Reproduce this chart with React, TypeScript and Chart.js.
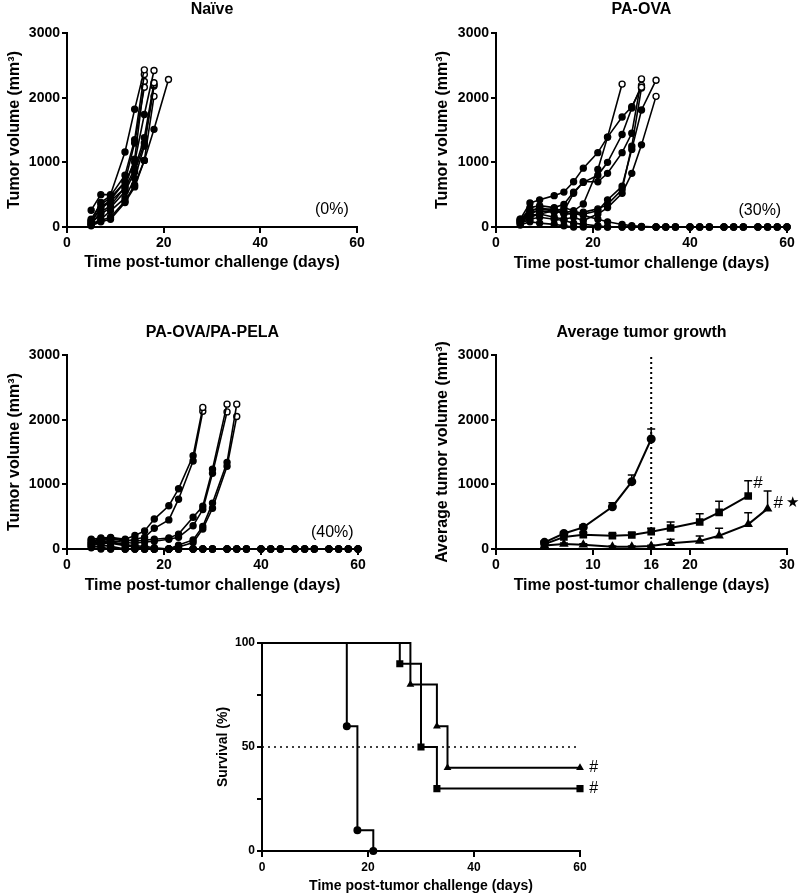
import React, { useEffect, useRef } from 'react';
import { Chart, registerables } from 'chart.js';

Chart.register(...registerables);

const FAMILY = "'Liberation Sans', Arial, Helvetica, sans-serif";

// Measurement days for individual tumor curves
const DAYS = [5, 7, 9, 12, 14, 16, 18, 21, 23, 26, 28, 30, 33, 35, 37, 40, 42, 44, 47, 49, 51, 54, 56, 58, 60];

// Naïve mice (tumor volume, mm3)
const NAIVE_1 = [260, 500, 500, 1160, 1820, 2430];
const NAIVE_2 = [100, 380, 480, 800, 1350, 2360];
const NAIVE_3 = [80, 300, 420, 700, 1300, 2160];
const NAIVE_4 = [50, 230, 330, 620, 1050, 2250];
const NAIVE_5 = [120, 350, 450, 700, 1000, 1740, 2420];
const NAIVE_6 = [90, 280, 400, 600, 900, 1380, 2230];
const NAIVE_7 = [60, 200, 300, 550, 850, 1300, 2200];
const NAIVE_8 = [40, 120, 250, 450, 750, 1250, 2180];
const NAIVE_9 = [30, 100, 150, 400, 650, 1030, 2020];
const NAIVE_10 = [20, 80, 120, 380, 620, 1030, 1510, 2280];

// PA-OVA mice
const OVA_1 = [100, 250, 300, 250, 220, 250, 355, 890, 1390, 2210];
const OVA_2 = [120, 370, 420, 485, 540, 700, 910, 1150, 1390, 1700, 1860, 2160];
const OVA_3 = [90, 300, 330, 300, 350, 540, 690, 800, 1000, 1430, 1840, 2190];
const OVA_4 = [80, 200, 270, 280, 250, 520, 700, 700, 830, 1150, 1450, 2290];
const OVA_5 = [60, 150, 200, 250, 200, 200, 230, 280, 350, 580, 1250, 2150];
const OVA_6 = [100, 220, 250, 230, 300, 250, 200, 250, 420, 630, 1200, 1810, 2270];
const OVA_7 = [70, 180, 200, 150, 120, 150, 100, 200, 300, 520, 830, 1270, 2020];
const OVA_8 = [120, 250, 280, 250, 220, 210, 180, 120, 80, 40, 20, 10, 0, 0, 0, 0, 0, 0, 0, 0, 0, 0, 0, 0, 0];
const OVA_9 = [50, 120, 150, 120, 100, 60, 40, 20, 0, 0, 0, 0, 0, 0, 0, 0, 0, 0, 0, 0, 0, 0, 0, 0, 0];
const OVA_10 = [30, 80, 60, 40, 20, 0, 0, 0, 0, 0, 0, 0, 0, 0, 0, 0, 0, 0, 0, 0, 0, 0, 0, 0, 0];

// PA-OVA/PA-PELA mice
const PELA_1 = [150, 170, 180, 150, 210, 280, 463, 669, 931, 1441, 2190];
const PELA_2 = [100, 140, 160, 120, 150, 180, 320, 450, 770, 1360, 2130];
const PELA_3 = [120, 160, 170, 140, 120, 140, 150, 170, 230, 490, 660, 1235, 2240];
const PELA_4 = [80, 120, 130, 100, 90, 110, 120, 150, 180, 360, 610, 1170, 2120];
const PELA_5 = [60, 100, 110, 70, 50, 40, 20, 0, 60, 140, 350, 710, 1340, 2240];
const PELA_6 = [50, 80, 90, 50, 30, 20, 0, 0, 30, 100, 310, 630, 1280, 2050];
const PELA_7 = [140, 120, 100, 60, 30, 0, 0, 0, 0, 0, 0, 0, 0, 0, 0, 0, 0, 0, 0, 0, 0, 0, 0, 0, 0];
const PELA_8 = [90, 60, 40, 0, 0, 0, 0, 0, 0, 0, 0, 0, 0, 0, 0, 0, 0, 0, 0, 0, 0, 0, 0, 0, 0];
const PELA_9 = [40, 30, 0, 0, 0, 0, 0, 0, 0, 0, 0, 0, 0, 0, 0, 0, 0, 0, 0, 0, 0, 0, 0, 0, 0];
const PELA_10 = [20, 0, 0, 0, 0, 0, 0, 0, 0, 0, 0, 0, 0, 0, 0, 0, 0, 0, 0, 0, 0, 0, 0, 0, 0];

const NAIVE_MICE = [NAIVE_1, NAIVE_2, NAIVE_3, NAIVE_4, NAIVE_5, NAIVE_6, NAIVE_7, NAIVE_8, NAIVE_9, NAIVE_10];
const OVA_MICE = [OVA_1, OVA_2, OVA_3, OVA_4, OVA_5, OVA_6, OVA_7, OVA_8, OVA_9, OVA_10];
const PELA_MICE = [PELA_1, PELA_2, PELA_3, PELA_4, PELA_5, PELA_6, PELA_7, PELA_8, PELA_9, PELA_10];

// Average tumor growth (mean and SEM)
const AVG_NAIVE_DAYS = [5, 7, 9, 12, 14, 16];
const AVG_NAIVE = [103, 240, 335, 654, 1041, 1701];
const SEM_NAIVE = [15, 25, 35, 62, 103, 155];
const AVG_OVA_DAYS = [5, 7, 9, 12, 14, 16, 18, 21, 23, 26];
const AVG_OVA = [75, 185, 222, 206, 216, 268, 325, 418, 567, 820];
const SEM_OVA = [10, 25, 30, 30, 35, 52, 93, 128, 170, 237];
const AVG_PELA_DAYS = [5, 7, 9, 12, 14, 16, 18, 21, 23, 26, 28];
const AVG_PELA = [55, 77, 67, 36, 36, 46, 88, 124, 206, 381, 624];
const SEM_PELA = [10, 15, 15, 10, 10, 12, 62, 77, 113, 181, 273];
const AVG_X_TICKS = [0, 10, 16, 20, 30];

// Survival (%)
const SURV_NAIVE_DAYS = [0, 16, 18, 21];
const SURV_NAIVE = [100, 60, 10, 0];
const SURV_OVA_DAYS = [0, 26, 30, 33, 60];
const SURV_OVA = [100, 90, 50, 30, 30];
const SURV_PELA_DAYS = [0, 28, 33, 35, 60];
const SURV_PELA = [100, 80, 60, 40, 40];

type Box = { left: number; top: number; w: number; h: number; L: number; T: number; R: number; B: number };

const BOX_NAIVE: Box = { left: 0, top: 0, w: 400, h: 300, L: 67, T: 33, R: 357, B: 227 };
const BOX_OVA: Box = { left: 400, top: 0, w: 400, h: 300, L: 96, T: 33, R: 387, B: 227 };
const BOX_PELA: Box = { left: 0, top: 300, w: 400, h: 300, L: 67, T: 55, R: 358, B: 249 };
const BOX_AVG: Box = { left: 400, top: 300, w: 400, h: 300, L: 96, T: 55, R: 387, B: 249 };
const BOX_SURV: Box = { left: 200, top: 600, w: 450, h: 296, L: 62, T: 43, R: 380, B: 251 };

type Label = { text: string; x: number; y: number; size: number; weight?: string; align?: CanvasTextAlign };

function textPlugin(title: string | null, titleY: number, labels: Label[]) {
  return {
    id: 'texts',
    afterDraw(chart: any) {
      const ctx = chart.ctx;
      const a = chart.chartArea;
      ctx.save();
      ctx.fillStyle = '#000';
      ctx.textBaseline = 'middle';
      if (title) {
        ctx.font = `bold 16px ${FAMILY}`;
        ctx.textAlign = 'center';
        ctx.fillText(title, (a.left + a.right) / 2, titleY);
      }
      labels.forEach((l) => {
        ctx.font = `${l.weight || 'normal'} ${l.size}px ${FAMILY}`;
        ctx.textAlign = l.align || 'center';
        ctx.fillText(l.text, chart.scales.x.getPixelForValue(l.x), chart.scales.y.getPixelForValue(l.y));
      });
      ctx.restore();
    },
  };
}

function errorBarPlugin(list: { dataset: number; sem: number[] }[]) {
  return {
    id: 'errbars',
    beforeDatasetsDraw(chart: any) {
      const ctx = chart.ctx;
      const xs = chart.scales.x;
      const ys = chart.scales.y;
      ctx.save();
      ctx.strokeStyle = '#000';
      ctx.lineWidth = 1.5;
      list.forEach(({ dataset, sem }) => {
        const data = chart.data.datasets[dataset].data as { x: number; y: number }[];
        data.forEach((pt, i) => {
          const x = xs.getPixelForValue(pt.x);
          const y0 = ys.getPixelForValue(pt.y);
          const y1 = ys.getPixelForValue(pt.y + sem[i]);
          ctx.beginPath();
          ctx.moveTo(x, y0);
          ctx.lineTo(x, y1);
          ctx.moveTo(x - 4, y1);
          ctx.lineTo(x + 4, y1);
          ctx.stroke();
        });
      });
      ctx.restore();
    },
  };
}

type AxisOpts = {
  xMin: number; xMax: number; xStep?: number; xTicks?: number[];
  yMin: number; yMax: number; yStep: number; yLabelFilter?: (v: number) => boolean;
  xTitle: string; yTitle: string;
  tickSize: number; titleSize: number;
  xTitleCenter: number; yTitleCenter: number;
  xTickPad: number;
};

function buildOptions(b: Box, o: AxisOpts, extra: any = {}) {
  const lineH = o.titleSize * 1.2;
  return {
    responsive: false,
    animation: false,
    events: [],
    layout: { padding: { left: 0, top: b.T, right: b.w - b.R, bottom: 0 } },
    plugins: { legend: { display: false }, tooltip: { enabled: false }, title: { display: false } },
    scales: {
      x: {
        type: 'linear',
        min: o.xMin,
        max: o.xMax,
        afterBuildTicks: o.xTicks
          ? (s: any) => {
              s.ticks = (o.xTicks as number[]).map((v) => ({ value: v }));
            }
          : undefined,
        ticks: {
          stepSize: o.xStep,
          autoSkip: false,
          maxRotation: 0,
          color: '#000',
          padding: o.xTickPad,
          font: { family: FAMILY, size: o.tickSize, weight: 'bold' },
          callback: (v: number) => String(v),
        },
        grid: { drawOnChartArea: false, drawTicks: true, tickLength: 6, color: '#000', lineWidth: 2 },
        border: { display: true, color: '#000', width: 2 },
        title: {
          display: true,
          text: o.xTitle,
          color: '#000',
          font: { family: FAMILY, size: o.titleSize, weight: 'bold' },
          padding: { top: 0, bottom: b.h - o.xTitleCenter - lineH / 2 },
        },
        afterFit: (s: any) => {
          s.height = b.h - b.B;
        },
      },
      y: {
        type: 'linear',
        min: o.yMin,
        max: o.yMax,
        ticks: {
          stepSize: o.yStep,
          autoSkip: false,
          color: '#000',
          padding: 2,
          font: { family: FAMILY, size: o.tickSize, weight: 'bold' },
          callback: (v: number) => (o.yLabelFilter && !o.yLabelFilter(v) ? '' : String(v)),
        },
        grid: { drawOnChartArea: false, drawTicks: true, tickLength: 5, color: '#000', lineWidth: 2 },
        border: { display: true, color: '#000', width: 2 },
        title: {
          display: true,
          text: o.yTitle,
          color: '#000',
          font: { family: FAMILY, size: o.titleSize, weight: 'bold' },
          padding: { top: o.yTitleCenter - lineH / 2, bottom: 0 },
        },
        afterFit: (s: any) => {
          s.width = b.L;
        },
      },
    },
    ...extra,
  };
}

function miceDatasets(mice: number[][]) {
  return mice.map((vals) => {
    const died = vals.length < DAYS.length;
    return {
      data: vals.map((v, i) => ({ x: DAYS[i], y: v })),
      borderColor: '#000',
      borderWidth: 1.6,
      pointRadius: 3,
      pointBorderWidth: 1.4,
      pointBorderColor: '#000',
      pointBackgroundColor: vals.map((_, i) => (died && i === vals.length - 1 ? '#fff' : '#000')),
      tension: 0,
      fill: false,
      clip: false,
    };
  });
}

const tumorAxis = (xTitleCenter: number, yTitleCenter: number, yTitle: string): AxisOpts => ({
  xMin: 0, xMax: 60, xStep: 20,
  yMin: 0, yMax: 3000, yStep: 1000,
  xTitle: 'Time post-tumor challenge (days)',
  yTitle,
  tickSize: 14, titleSize: 16,
  xTitleCenter, yTitleCenter,
  xTickPad: 2,
});

function individualConfig(b: Box, mice: number[][], title: string, titleY: number, pct: string, pctX: number, pctY: number, xTitleCenter: number, yTitleCenter: number) {
  return {
    type: 'line',
    data: { datasets: miceDatasets(mice) },
    options: buildOptions(b, tumorAxis(xTitleCenter, yTitleCenter, 'Tumor volume (mm³)')),
    plugins: [textPlugin(title, titleY, [{ text: pct, x: pctX, y: pctY, size: 16 }])],
  };
}

function pts(xs: number[], ys: number[]) {
  return xs.map((x, i) => ({ x, y: ys[i] }));
}

function averageConfig(b: Box) {
  const common = { borderColor: '#000', borderWidth: 2, pointBorderColor: '#000', pointBackgroundColor: '#000', tension: 0, fill: false, clip: false };
  const axis: AxisOpts = {
    ...tumorAxis(286, 43, 'Average tumor volume (mm³)'),
    xMax: 30,
    xStep: undefined,
    xTicks: AVG_X_TICKS,
  };
  return {
    type: 'line',
    data: {
      datasets: [
        { ...common, data: pts(AVG_NAIVE_DAYS, AVG_NAIVE), pointStyle: 'circle', pointRadius: 3.5 },
        { ...common, data: pts(AVG_OVA_DAYS, AVG_OVA), pointStyle: 'rect', pointRadius: 4 },
        { ...common, data: pts(AVG_PELA_DAYS, AVG_PELA), pointStyle: 'triangle', pointRadius: 3.5 },
        {
          data: [{ x: 16, y: 0 }, { x: 16, y: 3000 }],
          borderColor: '#000', borderWidth: 2, borderDash: [2, 3], pointRadius: 0, fill: false, clip: false,
        },
      ],
    },
    options: buildOptions(b, axis),
    plugins: [
      errorBarPlugin([
        { dataset: 0, sem: SEM_NAIVE },
        { dataset: 1, sem: SEM_OVA },
        { dataset: 2, sem: SEM_PELA },
      ]),
      textPlugin('Average tumor growth', 33, [
        { text: '#', x: 27.0, y: 1021, size: 17 },
        { text: '#', x: 29.1, y: 706, size: 17 },
        { text: '★', x: 30.6, y: 715, size: 15 },
      ]),
    ],
  };
}

function survivalConfig(b: Box) {
  const common = { borderColor: '#000', borderWidth: 2, pointBorderColor: '#000', pointBackgroundColor: '#000', stepped: 'before', fill: false, clip: false };
  const axis: AxisOpts = {
    xMin: 0, xMax: 60, xStep: 20,
    yMin: 0, yMax: 100, yStep: 25,
    yLabelFilter: (v: number) => v % 50 === 0,
    xTitle: 'Time post-tumor challenge (days)',
    yTitle: 'Survival (%)',
    tickSize: 12, titleSize: 14,
    xTitleCenter: 286, yTitleCenter: 23,
    xTickPad: 3,
  };
  const radii = (n: number, r: number) => Array.from({ length: n }, (_, i) => (i === 0 ? 0 : r));
  return {
    type: 'line',
    data: {
      datasets: [
        {
          data: [{ x: 0, y: 50 }, { x: 60, y: 50 }],
          borderColor: '#000', borderWidth: 1.5, borderDash: [2, 4], pointRadius: 0, fill: false, clip: false,
        },
        { ...common, data: pts(SURV_NAIVE_DAYS, SURV_NAIVE), pointStyle: 'circle', pointRadius: radii(SURV_NAIVE.length, 3) },
        { ...common, data: pts(SURV_OVA_DAYS, SURV_OVA), pointStyle: 'rect', pointRadius: radii(SURV_OVA.length, 3.6) },
        { ...common, data: pts(SURV_PELA_DAYS, SURV_PELA), pointStyle: 'triangle', pointRadius: radii(SURV_PELA.length, 2.5) },
      ],
    },
    options: buildOptions(b, axis),
    plugins: [
      textPlugin(null, 0, [
        { text: '#', x: 62.6, y: 40, size: 16 },
        { text: '#', x: 62.6, y: 30, size: 16 },
      ]),
    ],
  };
}

function Panel({ box, build }: { box: Box; build: () => any }) {
  const ref = useRef<HTMLCanvasElement>(null);
  useEffect(() => {
    const chart = new Chart(ref.current as HTMLCanvasElement, build());
    return () => chart.destroy();
  }, []);
  return (
    <div style={{ position: 'absolute', left: box.left, top: box.top, width: box.w, height: box.h }}>
      <canvas ref={ref} width={box.w} height={box.h} style={{ width: box.w, height: box.h, display: 'block' }} />
    </div>
  );
}

export default function App() {
  return (
    <div style={{ position: 'fixed', left: 0, top: 0, width: 800, height: 896, background: '#fff', overflow: 'hidden' }}>
      <Panel box={BOX_NAIVE} build={() => individualConfig(BOX_NAIVE, NAIVE_MICE, 'Naïve', 10, '(0%)', 54.8, 263, 263, 15)} />
      <Panel box={BOX_OVA} build={() => individualConfig(BOX_OVA, OVA_MICE, 'PA-OVA', 10, '(30%)', 54.4, 252, 264, 43)} />
      <Panel box={BOX_PELA} build={() => individualConfig(BOX_PELA, PELA_MICE, 'PA-OVA/PA-PELA', 33, '(40%)', 54.7, 258, 286, 15)} />
      <Panel box={BOX_AVG} build={() => averageConfig(BOX_AVG)} />
      <Panel box={BOX_SURV} build={() => survivalConfig(BOX_SURV)} />
    </div>
  );
}
